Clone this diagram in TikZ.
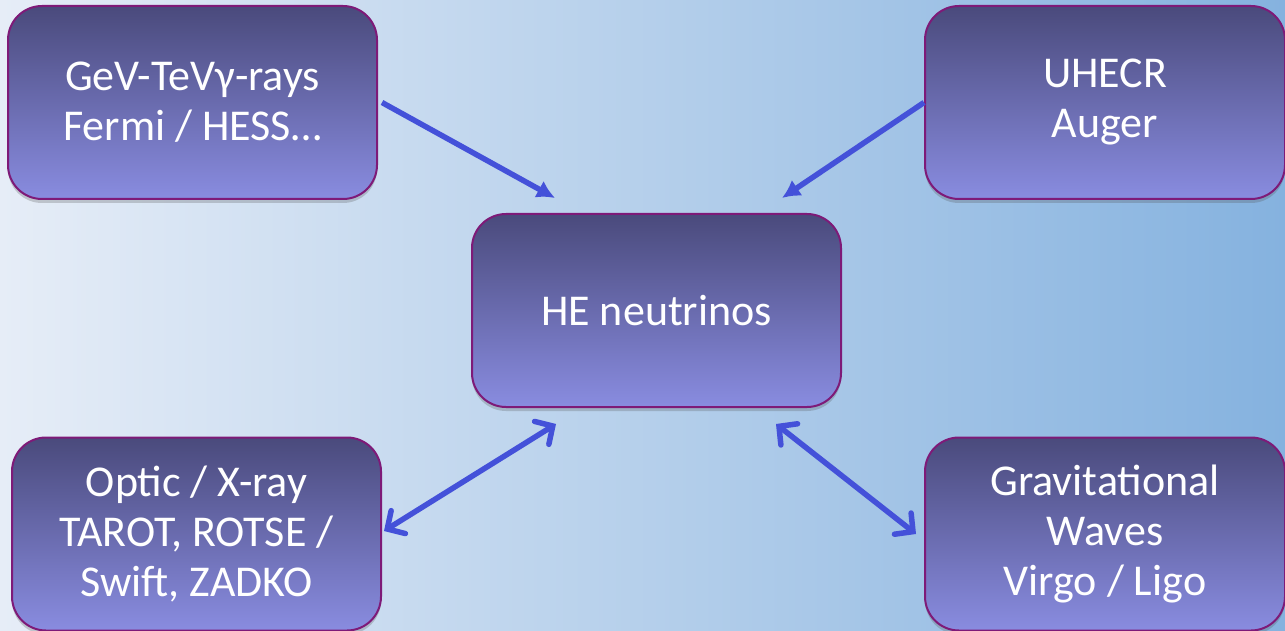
\documentclass[tikz,border=0pt]{standalone}
\usepackage{fontspec}
\setmainfont{Carlito}
\usetikzlibrary{arrows.meta,shadows}

\definecolor{boxtop}{HTML}{4A4A7C}
\definecolor{boxbot}{HTML}{898CE0}
\definecolor{boxrim}{HTML}{7E1A78}
\definecolor{arrblue}{HTML}{4451D9}
\definecolor{bgleft}{HTML}{E6EDF7}
\definecolor{bgmid}{HTML}{B3CDEA}
\definecolor{bgright}{HTML}{85B2DF}

\tikzset{
  obsbox/.style={draw=boxrim, line width=2pt, rounded corners=34pt,
    top color=boxtop, bottom color=boxbot, text=white, align=center,
    inner sep=0pt, minimum height=193pt,
    font=\fontsize{44}{50}\selectfont,
    drop shadow={shadow xshift=0pt, shadow yshift=-4pt, opacity=0.25, fill=black!70}},
  oneway/.style={draw=arrblue, line width=5.5pt, -{Latex[length=18pt,width=19pt]}},
  twoway/.style={draw=arrblue, line width=5.5pt, line cap=round,
    {Straight Barb[length=13pt,width=27pt,line cap=round]}-{Straight Barb[length=13pt,width=27pt,line cap=round]}},
}

\begin{document}
\begin{tikzpicture}[x=1pt,y=-1pt]
  % background
  \shade[left color=bgleft, middle color=bgmid, right color=bgright] (0,0) rectangle (1285,631);
  \useasboundingbox (0,0) rectangle (1285,631);

  % the messengers
  \node[obsbox, minimum width=369pt] (gamma) at (192.5,102.5) {GeV-TeVγ-rays\\Fermi / HESS…};
  \node[obsbox, minimum width=360pt] (uhecr) at (1105,102.5) {UHECR\\Auger};
  \node[obsbox, minimum width=369pt] (hen) at (656.5,310.5) {HE neutrinos};
  \node[obsbox, minimum width=369pt] (optic) at (196.5,534) {Optic / X-ray\\TAROT, ROTSE /\\Swift, ZADKO};
  \node[obsbox, minimum width=360pt] (gw) at (1105,534) {Gravitational\\Waves\\Virgo / Ligo};

  % links to the neutrinos
  \draw[oneway] ([xshift=4pt]gamma.east) -- ([xshift=84pt,yshift=15pt]hen.north west);
  \draw[oneway] (uhecr.west) -- ([xshift=-60pt,yshift=15pt]hen.north east);
  \draw[twoway] ([xshift=2pt,yshift=3pt]optic.east) -- ([xshift=85pt,yshift=-16pt]hen.south west);
  \draw[twoway] ([xshift=-66pt,yshift=-16pt]hen.south east) -- ([xshift=-8pt]gw.west);
\end{tikzpicture}
\end{document}
